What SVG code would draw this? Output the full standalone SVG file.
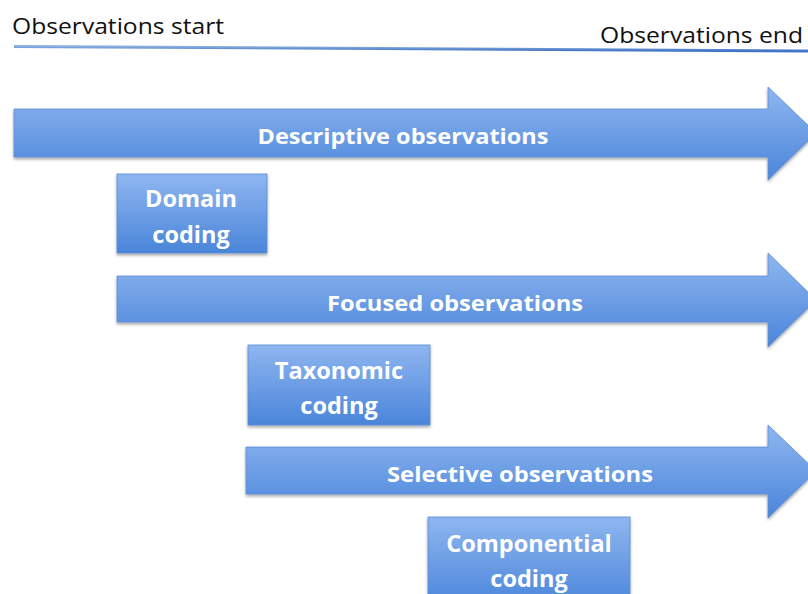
<svg xmlns="http://www.w3.org/2000/svg" width="808" height="594" viewBox="0 0 808 594">
<defs>
<linearGradient id="g" x1="0" y1="0" x2="0" y2="1">
<stop offset="0" stop-color="#8fb6f0"/>
<stop offset="1" stop-color="#4a85da"/>
</linearGradient>
<filter id="sh" x="-5%" y="-10%" width="110%" height="130%">
<feDropShadow dx="0" dy="2" stdDeviation="1.5" flood-color="#000" flood-opacity="0.35"/>
</filter>
<linearGradient id="lg" x1="0" y1="0" x2="0" y2="1">
<stop offset="0" stop-color="#8aaee0"/>
<stop offset="1" stop-color="#3f72c4"/>
</linearGradient>
</defs>
<style>
.shape{fill:url(#g);stroke:#5b8bd4;stroke-width:0.8;filter:url(#sh)}
.lbl{font-family:"Open Sans","Liberation Sans",sans-serif;font-weight:bold;font-size:22px;fill:#fff;text-anchor:middle}
.box{font-size:23.5px}
.hdr{font-family:"Open Sans","Liberation Sans",sans-serif;font-size:21px;fill:#111}
</style>
<rect width="808" height="594" fill="#fff"/>
<g id="timeline">
<text class="hdr" x="12" y="34" textLength="212" lengthAdjust="spacingAndGlyphs">Observations start</text>
<text class="hdr" x="803" y="43" text-anchor="end" textLength="203" lengthAdjust="spacingAndGlyphs">Observations end</text>
<path d="M14 46.5 L808 51" stroke="url(#lg)" stroke-width="3" fill="none"/>
</g>
<g id="descriptive">
<path class="shape" d="M14 109 H768 V87 L816 133 L768 180 V157 H14 Z"/>
<text class="lbl" x="403" y="144" textLength="291" lengthAdjust="spacingAndGlyphs">Descriptive observations</text>
</g>
<g id="domain">
<rect class="shape" x="117" y="174" width="150" height="79"/>
<text class="lbl box" x="191" y="207">Domain</text>
<text class="lbl box" x="191" y="243">coding</text>
</g>
<g id="focused">
<path class="shape" d="M117 276 H768 V253 L816 300 L768 347 V322 H117 Z"/>
<text class="lbl" x="455" y="311" textLength="256" lengthAdjust="spacingAndGlyphs">Focused observations</text>
</g>
<g id="taxonomic">
<rect class="shape" x="248" y="345" width="182" height="80"/>
<text class="lbl box" x="339" y="379">Taxonomic</text>
<text class="lbl box" x="339" y="414">coding</text>
</g>
<g id="selective">
<path class="shape" d="M246 447 H768 V425 L816 471 L768 518 V494 H246 Z"/>
<text class="lbl" x="520" y="482" textLength="266" lengthAdjust="spacingAndGlyphs">Selective observations</text>
</g>
<g id="componential">
<rect class="shape" x="428" y="517" width="202" height="90"/>
<text class="lbl box" x="529" y="552">Componential</text>
<text class="lbl box" x="529" y="587">coding</text>
</g>
<g id="connectors"></g>
</svg>
